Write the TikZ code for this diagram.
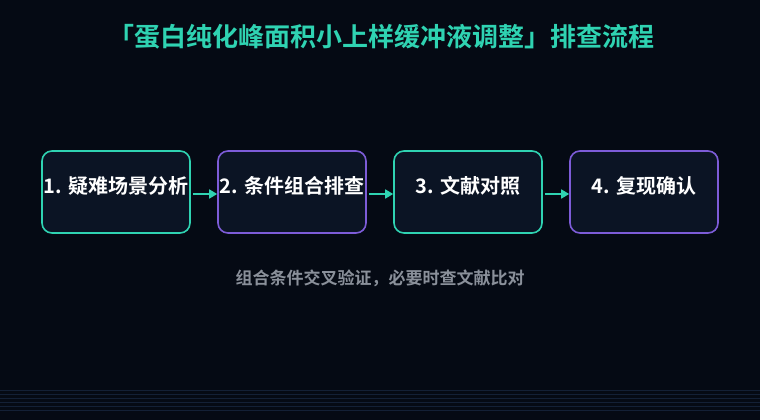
\documentclass[tikz,border=0pt]{standalone}
\usepackage{fontspec}
\setmainfont{Noto Sans CJK SC}
\newfontfamily\cjkbold[BoldFont={* Bold}]{Noto Sans CJK SC}
\usetikzlibrary{arrows.meta}
\definecolor{bgnavy}{HTML}{050A14}
\definecolor{boxfill}{HTML}{0B1424}
\definecolor{tealline}{HTML}{2FD3B2}
\definecolor{purpline}{HTML}{7D5CD8}
\definecolor{subgray}{HTML}{8A909A}
\definecolor{gridline}{HTML}{132036}
\begin{document}
\begin{tikzpicture}[x=1pt, y=-1pt,
    stepbox/.style={draw, line width=1.6pt, rounded corners=10pt, fill=boxfill,
      minimum width=148pt, minimum height=82pt, inner sep=0pt},
    tealbox/.style={stepbox, draw=tealline},
    purpbox/.style={stepbox, draw=purpline},
    steptext/.style={text=white, font=\cjkbold\bfseries\fontsize{20}{20}\selectfont},
    flow/.style={-{Triangle[length=8pt,width=9pt]}, draw=tealline, line width=1.6pt}]
    \fill[bgnavy] (0,0) rectangle (760,420);
    \useasboundingbox (0,0) rectangle (760,420);

    % faint lines at the bottom
    \foreach \yy in {390,394,...,410}
        \draw[gridline, line width=0.6pt] (0,\yy) -- (760,\yy);

    \node (title) at (381,37) [text=tealline, font=\cjkbold\bfseries\fontsize{26}{26}\selectfont] {「蛋白纯化峰面积小上样缓冲液调整」排查流程};

    \node (b1) at (116,192) [tealbox] {};
    \node (b2) at (292,192) [purpbox] {};
    \node (b3) at (468,192) [tealbox] {};
    \node (b4) at (644,192) [purpbox] {};

    \node (t1) at (116,186) [steptext] {1. 疑难场景分析};
    \node (t2) at (292,186) [steptext] {2. 条件组合排查};
    \node (t3) at (468,186) [steptext] {3. 文献对照};
    \node (t4) at (644,186) [steptext] {4. 复现确认};

    \draw[flow] ([xshift=2pt,yshift=-2pt]b1.east) -- ([yshift=-2pt]b2.west);
    \draw[flow] ([xshift=2pt,yshift=-2pt]b2.east) -- ([yshift=-2pt]b3.west);
    \draw[flow] ([xshift=2pt,yshift=-2pt]b3.east) -- ([yshift=-2pt]b4.west);

    \node (note) at (380,278) [text=subgray, font=\cjkbold\bfseries\fontsize{17}{17}\selectfont] {组合条件交叉验证，必要时查文献比对};
\end{tikzpicture}
\end{document}
